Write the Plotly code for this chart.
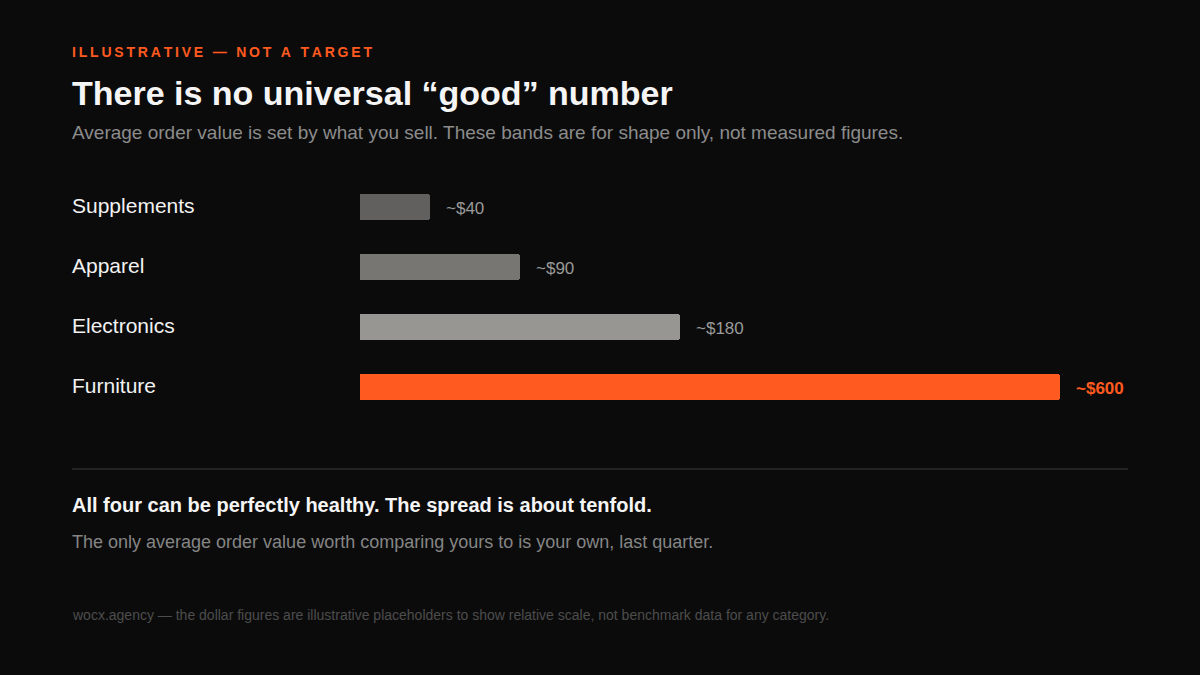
import plotly.graph_objects as go

# Data
categories = ["Supplements", "Apparel", "Electronics", "Furniture"]
value_labels = ["~$40", "~$90", "~$180", "~$600"]
band_length = [10, 22.9, 45.7, 100]  # relative band length, % of track (shape only)
bar_colors = ["#61605e", "#777672", "#979692", "#ff5a1f"]
label_colors = ["#9a9a9a", "#9a9a9a", "#9a9a9a", "#ff5a1f"]
label_bold = [False, False, False, True]

W, H = 1200, 675
BG = "#0b0b0b"
FONT = "Liberation Sans, Arial, sans-serif"

fig = go.Figure()
fig.add_trace(go.Bar(
    x=band_length, y=categories, orientation="h",
    marker=dict(color=bar_colors, line=dict(width=0), cornerradius=3),
    width=0.43, hoverinfo="skip", showlegend=False,
))

def py(px):
    return 1 - px / H

annotations = []
for cat, lab, ln, col, b in zip(categories, value_labels, band_length, label_colors, label_bold):
    annotations.append(dict(
        x=ln, y=cat, xref="x", yref="y", text=f"<b>{lab}</b>" if b else lab,
        showarrow=False, xanchor="left", xshift=14, yshift=-1,
        font=dict(family=FONT, size=17, color=col),
    ))
    annotations.append(dict(
        x=72 / W, y=cat, xref="paper", yref="y", text=cat,
        showarrow=False, xanchor="left", xshift=-2, yshift=2,
        font=dict(family=FONT, size=21, color="#f2f2f2"),
    ))

def txt(text, y, size, color, bold=False):
    annotations.append(dict(
        x=72 / W, y=py(y), xref="paper", yref="paper",
        text=f"<b>{text}</b>" if bold else text, showarrow=False,
        xanchor="left", yanchor="middle", xshift=-2,
        font=dict(family=FONT, size=size, color=color),
    ))

eyebrow = "ILLUSTRATIVE — NOT A TARGET"
txt("\u2009".join(eyebrow), 52, 14, "#ff5a1f", bold=True)
txt("There is no universal “good” number", 93, 34, "#f5f5f5", bold=True)
txt("Average order value is set by what you sell. These bands are for shape only, not measured figures.", 133, 19, "#8c8c8c")
txt("All four can be perfectly healthy. The spread is about tenfold.", 505, 20, "#f5f5f5", bold=True)
txt("The only average order value worth comparing yours to is your own, last quarter.", 542, 18, "#858585")
txt("wocx.agency — the dollar figures are illustrative placeholders to show relative scale, not benchmark data for any category.", 615, 14, "#4d4d4d")

fig.update_layout(
    width=W, height=H, paper_bgcolor=BG, plot_bgcolor=BG,
    margin=dict(l=0, r=0, t=0, b=0),
    xaxis=dict(domain=[360 / W, 1060 / W], range=[0, 100], visible=False, fixedrange=True),
    yaxis=dict(domain=[1 - 417 / H, 1 - 177 / H], range=[3.5, -0.5], visible=False,
               categoryorder="array", categoryarray=categories, fixedrange=True),
    annotations=annotations,
    shapes=[dict(type="line", xref="paper", yref="paper", x0=72 / W, x1=1128 / W,
                 y0=py(469), y1=py(469), line=dict(color="#222222", width=2))],
    bargap=0,
)

fig.write_html(
    "out.html",
    config={"displayModeBar": False},
    post_script="document.body.style.margin='0';document.body.style.background='#0b0b0b';",
)
